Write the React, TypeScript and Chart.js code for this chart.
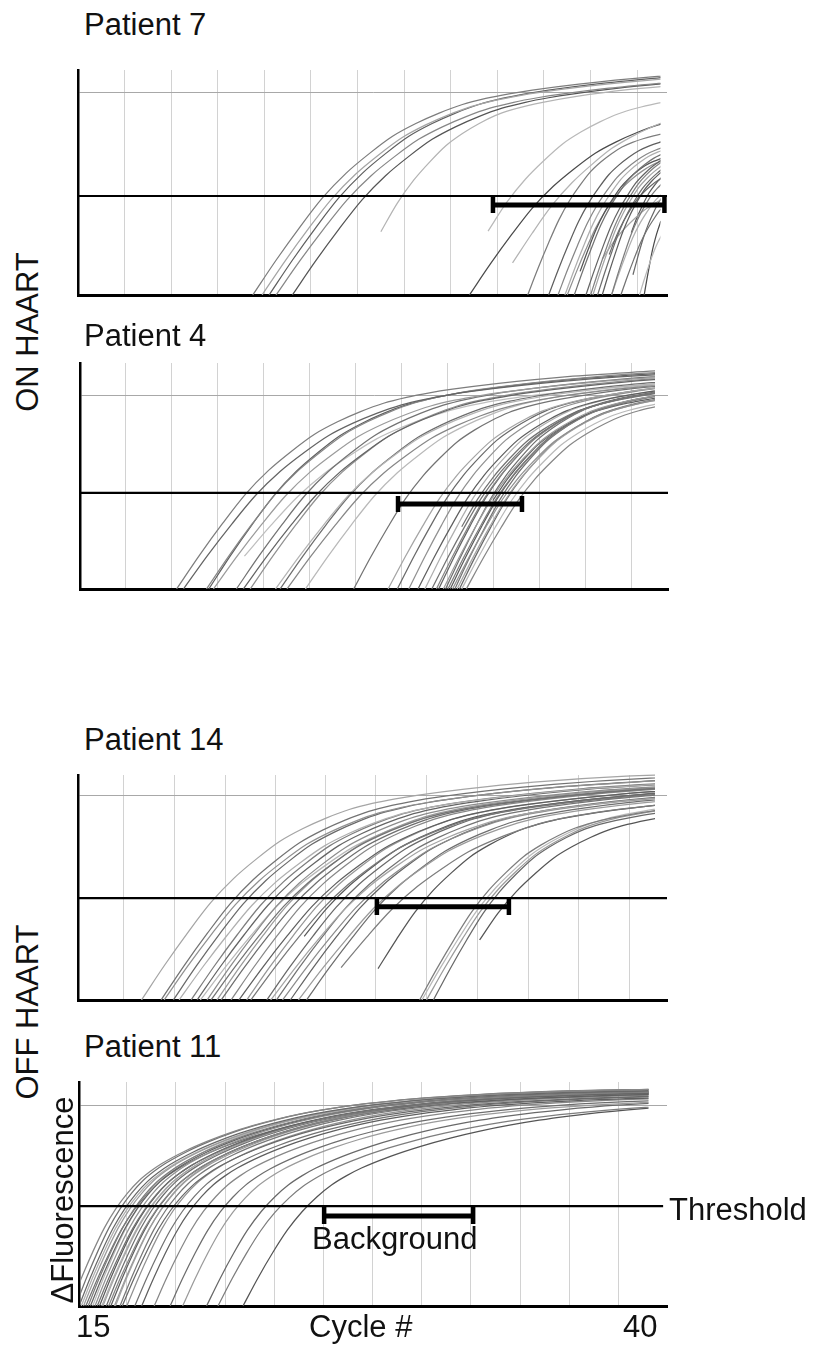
import React, { useEffect, useRef } from "react";
import { Chart, registerables } from "chart.js";

Chart.register(...registerables);

const FONT = '"Liberation Sans", Arial, Helvetica, sans-serif';

// Shape of an amplification curve: cycles after leaving the baseline -> % of panel height
const SHAPE_A_DX = [0, 1, 2, 3, 4, 5, 6, 7, 8, 9, 10, 11, 12, 14, 17, 21, 25, 30];
const SHAPE_A_Y = [0, 15, 29, 42, 52.5, 61, 68.5, 74, 78.5, 82.2, 84.8, 86.8, 88.4, 91, 94, 96.6, 97.8, 98.5];
const SHAPE_B_DX = [0, 0.5, 1, 1.5, 2, 2.5, 3, 3.5, 4, 5, 6, 7, 8, 9, 10, 11, 12, 13, 15, 18, 22, 26, 30];
const SHAPE_B_Y = [0, 12.8, 24.5, 35, 43.5, 50.3, 55.8, 60, 63.5, 69, 73.5, 77.3, 80.5, 83.2, 85.5, 87.4, 89, 90.3, 92.4, 94.4, 96, 96.8, 97.2];

// Curves: [start cycle, stretch, plateau factor, first visible shape point, gray level]
const P7_CURVES = [
  [22.5, 1.0, 1.03, 0, 110], [22.9, 1.0, 1.02, 0, 150], [23.2, 1.0, 1.03, 0, 80],
  [23.5, 1.02, 1.01, 0, 120], [24.2, 1.0, 1.01, 0, 70], [26.6, 0.7, 0.97, 2, 165],
  [31.0, 0.8, 0.98, 2, 170], [32.8, 0.85, 0.95, 1, 165], [31.8, 0.9, 0.92, 0, 60],
  [34.3, 0.45, 0.8, 0, 110], [35.2, 0.43, 0.78, 0, 80], [35.6, 0.42, 0.76, 0, 120],
  [35.9, 0.4, 0.75, 0, 160], [36.3, 0.38, 0.74, 0, 100], [36.8, 0.36, 0.73, 0, 85],
  [37.0, 0.34, 0.72, 0, 115], [37.1, 0.33, 0.7, 0, 150], [37.3, 0.32, 0.69, 0, 95],
  [37.5, 0.3, 0.68, 0, 80], [37.9, 0.28, 0.64, 0, 110], [37.9, 0.3, 0.6, 0, 160],
  [38.3, 0.28, 0.55, 0, 100], [39.1, 0.2, 0.45, 0, 170], [39.3, 0.12, 0.48, 0, 60],
  [36.2, 0.35, 0.7, 1, 70], [37.2, 0.3, 0.62, 2, 90], [36.6, 0.45, 0.55, 2, 150],
  [38.0, 0.25, 0.66, 3, 75], [36.0, 0.4, 0.7, 0, 130], [38.6, 0.22, 0.6, 1, 90],
];
const P4_CURVES = [
  [19.2, 1.0, 1.0, 0, 110], [19.5, 1.05, 0.99, 0, 85], [20.5, 1.0, 1.0, 0, 120],
  [20.6, 0.95, 0.99, 0, 80], [20.8, 1.05, 0.985, 0, 140], [21.8, 1.0, 0.99, 0, 100],
  [22.1, 1.05, 0.985, 0, 85], [22.4, 1.0, 0.985, 0, 130], [23.5, 1.05, 0.98, 0, 165],
  [23.7, 1.0, 0.98, 0, 95], [24.0, 1.05, 0.975, 0, 120], [24.8, 1.0, 0.98, 0, 170],
  [21.0, 1.15, 0.97, 1, 175],
  [26.9, 0.75, 0.95, 0, 100], [28.4, 0.75, 0.96, 0, 150], [28.8, 0.72, 0.96, 0, 90],
  [29.3, 0.7, 0.96, 0, 130], [29.7, 0.72, 0.96, 0, 80], [30.0, 0.7, 0.96, 0, 160],
  [30.3, 0.72, 0.96, 0, 100], [30.5, 0.7, 0.96, 0, 120], [30.6, 0.68, 0.96, 0, 85],
  [30.8, 0.7, 0.95, 0, 140], [30.9, 0.66, 0.96, 0, 95], [31.0, 0.7, 0.95, 0, 110],
  [31.1, 0.68, 0.95, 0, 75], [31.2, 0.72, 0.94, 0, 130], [31.3, 0.66, 0.95, 0, 100],
  [31.4, 0.7, 0.94, 0, 150], [31.5, 0.68, 0.94, 0, 90], [31.6, 0.72, 0.93, 0, 170],
  [31.8, 0.75, 0.93, 0, 120], [30.2, 0.7, 0.95, 2, 100], [31.0, 0.65, 0.93, 3, 80],
];
const P14_CURVES = [
  [17.75, 1.0, 1.03, 0, 150], [18.6, 1.0, 1.02, 0, 100], [18.73, 1.03, 1.01, 0, 130],
  [19.13, 1.0, 1.01, 0, 90], [19.38, 1.05, 1.0, 0, 160], [19.9, 1.0, 1.0, 0, 110],
  [20.16, 1.02, 1.0, 0, 85], [20.59, 1.0, 0.99, 0, 125], [20.76, 1.05, 0.99, 0, 100],
  [21.02, 1.0, 0.99, 0, 140], [21.2, 1.03, 0.99, 0, 95], [21.63, 1.0, 0.985, 0, 120],
  [21.97, 1.05, 0.985, 0, 80], [22.31, 1.0, 0.98, 0, 135], [22.49, 1.05, 0.975, 0, 105],
  [23.18, 1.0, 0.98, 0, 90], [23.35, 1.08, 0.97, 0, 150], [23.6, 1.0, 0.975, 0, 100],
  [23.86, 1.05, 0.97, 0, 125], [24.2, 1.0, 0.97, 0, 85], [24.55, 1.08, 0.965, 0, 140],
  [24.9, 1.0, 0.965, 0, 95], [25.3, 1.1, 0.96, 1, 110], [22.8, 1.0, 0.975, 2, 75],
  [20.3, 1.1, 0.99, 0, 170],
  [27.2, 0.8, 0.93, 1, 70], [29.8, 0.75, 0.93, 0, 110], [29.9, 0.8, 0.95, 0, 170],
  [30.1, 0.78, 0.94, 0, 140], [30.4, 0.72, 0.92, 0, 90], [30.8, 0.8, 0.92, 2, 70],
];
const P11_CURVES = [
  [14.62, 1.0, 1.0, 0, 120], [14.85, 0.98, 1.0, 0, 100], [15.0, 1.0, 0.995, 0, 90],
  [15.2, 1.02, 1.0, 0, 140], [15.4, 1.0, 0.99, 0, 110], [15.5, 1.02, 0.995, 0, 85],
  [15.7, 1.0, 0.99, 0, 130], [15.8, 1.04, 0.99, 0, 100], [15.9, 1.0, 0.985, 0, 75],
  [16.05, 1.02, 0.99, 0, 150], [16.2, 1.0, 0.985, 0, 95], [16.3, 1.05, 0.99, 0, 120],
  [16.4, 1.0, 0.98, 0, 80], [16.55, 1.02, 0.985, 0, 140], [16.8, 1.0, 0.98, 0, 105],
  [16.9, 1.05, 0.975, 0, 90], [17.1, 1.02, 0.98, 0, 130], [17.45, 1.05, 0.975, 0, 100],
  [17.75, 1.05, 0.97, 0, 80], [18.3, 1.08, 0.97, 0, 120], [19.0, 1.1, 0.965, 0, 95],
  [19.55, 1.1, 0.96, 0, 140], [20.6, 1.2, 0.97, 0, 90], [21.1, 1.25, 0.96, 0, 110],
  [22.2, 1.3, 0.97, 0, 70], [15.1, 1.0, 0.99, 0, 160], [15.6, 0.98, 1.0, 0, 170],
  [16.0, 1.03, 0.99, 0, 160], [15.3, 1.05, 0.98, 0, 100], [16.6, 1.0, 0.99, 0, 150],
];

// Vertical grid lines (cycle), horizontal grid level, threshold level (% of panel height)
const P7_GRID_X = [17, 19, 21, 23, 25, 27, 29, 31, 33, 35, 37, 39];
const P4_GRID_X = [17, 19, 21, 23, 25, 27, 29, 31, 33, 35, 37, 39];
const P14_GRID_X = [16.98, 19.18, 21.37, 23.55, 25.72, 27.91, 30.11, 32.29, 34.5, 36.7, 38.9];
const P11_GRID_X = [17.09, 19.25, 21.41, 23.57, 25.73, 27.89, 30.05, 32.2, 34.36, 36.52, 38.68];
const GRID_Y = [89.8, 85.4, 91.1, 89.3];
const THRESHOLD = [44.0, 42.5, 45.3, 44.6];
// Background bracket: [from cycle, to cycle, bar level, tick top, tick bottom]
const P7_BRACKET = [32.81, 40.17, 40.0, 43.6, 36.4];
const P4_BRACKET = [28.83, 34.22, 37.6, 41.2, 34.1];
const P14_BRACKET = [27.95, 33.67, 41.5, 45.3, 37.8];
const P11_BRACKET = [25.76, 32.3, 40.2, 44.2, 36.6];
const LAST_CYCLE = 40;

const PANELS = [
  { curves: P7_CURVES, dx: SHAPE_A_DX, sy: SHAPE_A_Y, gridX: P7_GRID_X, k: 0, bracket: P7_BRACKET,
    box: { left: 78, right: 667, top: 70, bottom: 295 }, xMax: 40.28, thrEnd: 40.28 },
  { curves: P4_CURVES, dx: SHAPE_A_DX, sy: SHAPE_A_Y, gridX: P4_GRID_X, k: 1, bracket: P4_BRACKET,
    box: { left: 80, right: 668, top: 363, bottom: 589 }, xMax: 40.57, thrEnd: 40.57 },
  { curves: P14_CURVES, dx: SHAPE_A_DX, sy: SHAPE_A_Y, gridX: P14_GRID_X, k: 2, bracket: P14_BRACKET,
    box: { left: 78, right: 667, top: 775, bottom: 1000 }, xMax: 40.52, thrEnd: 40.52 },
  { curves: P11_CURVES, dx: SHAPE_B_DX, sy: SHAPE_B_Y, gridX: P11_GRID_X, k: 3, bracket: P11_BRACKET,
    box: { left: 79, right: 667, top: 1082, bottom: 1306 }, xMax: 40.81, thrEnd: 40.64 },
];

function curvePoints(c: number[], dx: number[], sy: number[]) {
  const [c0, s, t, from] = c;
  const pts: { x: number; y: number }[] = [];
  for (let i = from; i < dx.length; i++) {
    const x = c0 + s * dx[i];
    pts.push({ x, y: t * sy[i] });
    if (x > LAST_CYCLE) break;
  }
  return pts;
}

const clipPlugin = {
  id: "clipLastCycle",
  beforeDatasetDraw(chart: any, args: any) {
    const ds = chart.data.datasets[args.index];
    if (!ds.isCurve) return;
    const { ctx, chartArea, scales } = chart;
    const xr = scales.x.getPixelForValue(LAST_CYCLE);
    ctx.save();
    ctx.beginPath();
    ctx.rect(chartArea.left + 1, chartArea.top - 14, xr - chartArea.left - 1, chartArea.bottom - chartArea.top + 14);
    ctx.clip();
  },
  afterDatasetDraw(chart: any, args: any) {
    const ds = chart.data.datasets[args.index];
    if (ds.isCurve) chart.ctx.restore();
  },
};

const CANVAS_L = 60;
const CANVAS_R = 680;

function Panel({ p }: { p: any }) {
  const ref = useRef<HTMLCanvasElement | null>(null);
  const top = p.box.top - 16;
  const height = p.box.bottom - p.box.top + 22;
  useEffect(() => {
    const thr = THRESHOLD[p.k];
    const b = p.bracket;
    const datasets: any[] = [
      {
        data: [{ x: b[0], y: b[3] }, { x: b[0], y: b[4] }, { x: b[0], y: null },
               { x: b[1], y: b[3] }, { x: b[1], y: b[4] }],
        borderColor: "#000", borderWidth: 4.5, pointRadius: 0, borderCapStyle: "butt", spanGaps: false, clip: false,
      },
      {
        data: [{ x: b[0], y: b[2] }, { x: b[1], y: b[2] }],
        borderColor: "#000", borderWidth: 5, pointRadius: 0, borderCapStyle: "butt", clip: false,
      },
      {
        data: [{ x: 15, y: thr }, { x: p.thrEnd, y: thr }],
        borderColor: "#000", borderWidth: 2.2, pointRadius: 0, clip: false,
      },
      ...p.curves.map((c: number[]) => {
        const g = Math.min(190, c[4] + 15);
        return {
          isCurve: true,
          data: curvePoints(c, p.dx, p.sy),
          borderColor: `rgb(${g},${g},${g})`,
          borderWidth: 1.25,
          pointRadius: 0,
          cubicInterpolationMode: "monotone",
          clip: false,
        };
      }),
    ];
    const chart = new Chart(ref.current as HTMLCanvasElement, {
      type: "line",
      data: { datasets },
      options: {
        animation: false,
        responsive: false,
        events: [],
        layout: { padding: { left: p.box.left - CANVAS_L, right: CANVAS_R - p.box.right, top: 16, bottom: 6 } },
        plugins: { legend: { display: false }, tooltip: { enabled: false } },
        scales: {
          x: {
            type: "linear", min: 15, max: p.xMax,
            ticks: { display: false },
            grid: { color: "#d2d2d2", lineWidth: 1, drawTicks: false },
            border: { display: true, color: "#000", width: 3 },
            afterBuildTicks: (s: any) => { s.ticks = p.gridX.map((v: number) => ({ value: v })); },
          },
          y: {
            type: "linear", min: 0, max: 100,
            ticks: { display: false },
            grid: { color: "#a8a8a8", lineWidth: 1, drawTicks: false },
            border: { display: true, color: "#000", width: 2.5 },
            afterBuildTicks: (s: any) => { s.ticks = [{ value: GRID_Y[p.k] }]; },
          },
        },
      } as any,
      plugins: [clipPlugin],
    });
    return () => chart.destroy();
  }, []);
  return (
    <canvas
      ref={ref}
      width={CANVAS_R - CANVAS_L}
      height={height}
      style={{ position: "absolute", left: CANVAS_L, top, width: CANVAS_R - CANVAS_L, height }}
    />
  );
}

const SIZE = 31;
const ASC = 26.25;

function Label({ text, x, baseline }: { text: string; x: number; baseline: number }) {
  return (
    <div style={{ position: "absolute", left: x, top: baseline - ASC, font: `${SIZE}px ${FONT}`, lineHeight: `${SIZE}px`, whiteSpace: "nowrap", color: "#111" }}>
      {text}
    </div>
  );
}

function VLabel({ text, cx, cy }: { text: string; cx: number; cy: number }) {
  return (
    <div style={{ position: "absolute", left: cx, top: cy, transform: "translate(-50%, -50%) rotate(-90deg)", font: `${SIZE}px ${FONT}`, lineHeight: `${SIZE}px`, whiteSpace: "nowrap", color: "#111" }}>
      {text}
    </div>
  );
}

export default function App() {
  return (
    <div style={{ position: "absolute", left: 0, top: 0, width: 816, height: 1347, background: "#fff", overflow: "hidden" }}>
      {PANELS.map((p, i) => <Panel key={i} p={p} />)}
      <Label text="Patient 7" x={84} baseline={35} />
      <Label text="Patient 4" x={84} baseline={346} />
      <Label text="Patient 14" x={84} baseline={750} />
      <Label text="Patient 11" x={84} baseline={1057} />
      <VLabel text="ON HAART" cx={27} cy={332} />
      <VLabel text="OFF HAART" cx={27} cy={1012} />
      <VLabel text="ΔFluorescence" cx={62} cy={1200} />
      <Label text="Threshold" x={669} baseline={1220} />
      <Label text="Background" x={312} baseline={1249} />
      <Label text="15" x={76} baseline={1337} />
      <Label text="Cycle #" x={309} baseline={1337} />
      <Label text="40" x={623} baseline={1337} />
    </div>
  );
}
